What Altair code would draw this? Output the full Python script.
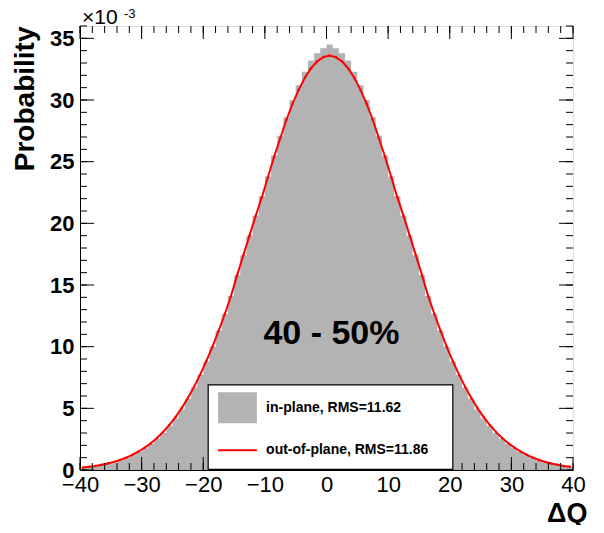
import pandas as pd
import altair as alt

# bin low edges (width 1), values in units of 1e-3
x_edges = list(range(-40, 41))
in_plane = [0.18, 0.24, 0.31, 0.4, 0.5, 0.63, 0.78, 0.97, 1.19, 1.46, 1.76, 2.1, 2.53, 3.01, 3.56, 4.18, 4.9, 5.75, 6.68, 7.7, 8.8,
            10.0, 11.3, 12.65, 14.1, 15.8, 17.4, 19.0, 20.6, 22.2, 23.8, 25.5, 27.1, 28.6, 30.0, 31.2, 32.3, 33.2, 33.8, 34.2, 34.5,
            34.2, 33.8, 33.2, 32.3, 31.2, 30.0, 28.6, 27.1, 25.5, 23.8, 22.2, 20.6, 19.0, 17.4, 15.8, 14.1, 12.65, 11.3, 10.0, 8.8,
            7.7, 6.68, 5.75, 4.9, 4.18, 3.56, 3.01, 2.53, 2.1, 1.76, 1.46, 1.19, 0.97, 0.78, 0.63, 0.5, 0.4, 0.31, 0.24, 0.18]
out_plane = [0.2, 0.26, 0.33, 0.42, 0.53, 0.66, 0.81, 1.0, 1.23, 1.5, 1.81, 2.17, 2.6, 3.09, 3.65, 4.29, 5.02, 5.83, 6.74, 7.73, 8.83,
             10.0, 11.3, 12.65, 14.1, 15.8, 17.4, 19.0, 20.6, 22.1, 23.76, 25.4, 26.9, 28.4, 29.7, 30.84, 31.81, 32.58, 33.14, 33.48, 33.6,
             33.48, 33.14, 32.58, 31.81, 30.84, 29.7, 28.4, 26.9, 25.4, 23.76, 22.1, 20.6, 19.0, 17.4, 15.8, 14.1, 12.65, 11.3, 10.0, 8.83,
             7.73, 6.74, 5.83, 5.02, 4.29, 3.65, 3.09, 2.6, 2.17, 1.81, 1.5, 1.23, 1.0, 0.81, 0.66, 0.53, 0.42, 0.33, 0.26, 0.2]

x_major = [-40, -30, -20, -10, 0, 10, 20, 30, 40]
x_minor = list(range(-40, 41, 2))
y_major = [0, 5, 10, 15, 20, 25, 30, 35]
y_minor = list(range(0, 37))

W, H = 493, 444
FONT = "Liberation Sans"

hist = pd.DataFrame({"x": x_edges, "p": in_plane})
curve = pd.DataFrame({"x": [e + 0.5 for e in x_edges[:-1]], "p": out_plane[:-1]})

xs = alt.Scale(domain=[-40, 40], nice=False, zero=False)
ys = alt.Scale(domain=[0, 36], nice=False)

area = alt.Chart(hist).mark_area(interpolate="step-after", color="#b3b3b3").encode(
    x=alt.X("x:Q", scale=xs, title="ΔQ",
            axis=alt.Axis(values=x_major, ticks=False, labelFont=FONT, labelFontSize=22, labelColor="black",
                          labelPadding=4, labelFlush=False, grid=False, domainColor="black",
                          titleFont=FONT, titleFontSize=27, titleFontWeight="bold", titleAnchor="end",
                          titleAlign="right", titleBaseline="bottom", titleX=W + 14, titleY=57,
                          titleColor="black")),
    y=alt.Y("p:Q", scale=ys, title="Probability",
            axis=alt.Axis(values=y_major, ticks=False, labelFont=FONT, labelFontSize=22, labelFontWeight="bold",
                          labelColor="black", labelPadding=6, labelFlush=False, grid=False, domainColor="black",
                          titleFont=FONT, titleFontSize=28, titleFontWeight="bold", titleAnchor="end",
                          titleColor="black", titlePadding=10)),
)

line = alt.Chart(curve).mark_line(color="red", strokeWidth=2, point=alt.OverlayMarkDef(color="red", size=6)).encode(
    x=alt.X("x:Q", scale=xs), y=alt.Y("p:Q", scale=ys))


def ticks(vals, axis, length):
    d = pd.DataFrame({"v": vals})
    out = []
    if axis == "x":
        for a, b in [(H, H - length), (0, length)]:
            out.append(alt.Chart(d).mark_rule(color="black").encode(
                x=alt.X("v:Q", scale=xs), y=alt.value(a), y2=alt.value(b)))
    else:
        for a, b in [(0, length), (W, W - length)]:
            out.append(alt.Chart(d).mark_rule(color="black").encode(
                y=alt.Y("v:Q", scale=ys), x=alt.value(a), x2=alt.value(b)))
    return out


tick_layers = ticks(x_major, "x", 13) + ticks(x_minor, "x", 7) + ticks(y_major, "y", 14) + ticks(y_minor, "y", 7)

box = pd.DataFrame({"x1": [-19.2], "x2": [20.5], "y1": [0.05], "y2": [6.9]})
legend_box = alt.Chart(box).mark_rect(fill="white", stroke="black", strokeWidth=1.2).encode(
    x=alt.X("x1:Q", scale=xs), x2="x2:Q", y=alt.Y("y1:Q", scale=ys), y2="y2:Q")
sw = pd.DataFrame({"x1": [-17.6], "x2": [-11.3], "y1": [3.8], "y2": [6.3]})
legend_swatch = alt.Chart(sw).mark_rect(fill="#b3b3b3").encode(
    x=alt.X("x1:Q", scale=xs), x2="x2:Q", y=alt.Y("y1:Q", scale=ys), y2="y2:Q")
ln = pd.DataFrame({"x1": [-17.6], "x2": [-11.3], "y": [1.6]})
legend_line = alt.Chart(ln).mark_rule(color="red", strokeWidth=2).encode(
    x=alt.X("x1:Q", scale=xs), x2="x2:Q", y=alt.Y("y:Q", scale=ys))
labels = pd.DataFrame({"x": [-9.8, -9.8], "y": [5.0, 1.6],
                       "t": ["in-plane, RMS=11.62", "out-of-plane, RMS=11.86"]})
legend_text = alt.Chart(labels).mark_text(align="left", baseline="middle", font=FONT, fontSize=14,
                                          fontWeight="bold", color="black").encode(
    x=alt.X("x:Q", scale=xs), y=alt.Y("y:Q", scale=ys), text="t:N")

cent = pd.DataFrame({"x": [0.8], "y": [11.0], "t": ["40 - 50%"]})
centrality = alt.Chart(cent).mark_text(font=FONT, fontSize=34, fontWeight="bold", color="black").encode(
    x=alt.X("x:Q", scale=xs), y=alt.Y("y:Q", scale=ys), text="t:N")

mult = alt.Chart(pd.DataFrame({"t": ["×10"]})).mark_text(
    align="left", baseline="alphabetic", font=FONT, fontSize=21, color="black").encode(
    x=alt.value(2), y=alt.value(-2), text="t:N")
expo = alt.Chart(pd.DataFrame({"t": ["-3"]})).mark_text(
    align="left", baseline="top", font=FONT, fontSize=13, color="black").encode(
    x=alt.value(44), y=alt.value(-18), text="t:N")

chart = alt.layer(area, line, *tick_layers, legend_box, legend_swatch, legend_line, legend_text,
                  centrality, mult, expo).properties(
    width=W, height=H, autosize=alt.AutoSizeParams(type="none"),
    padding={"left": 72, "top": 18, "right": 23, "bottom": 55},
).configure_view(stroke="black", strokeWidth=1.5).configure(background="white")

chart.save("out.html", embed_options={"renderer": "svg", "actions": False})
